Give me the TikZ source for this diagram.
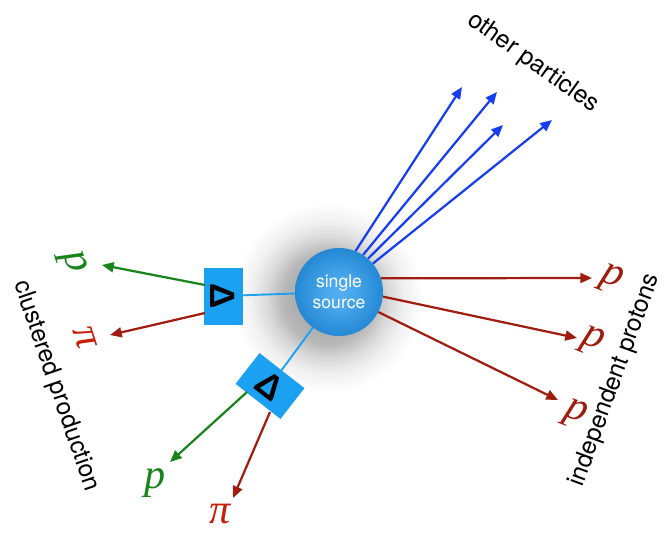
\documentclass[tikz,border=0pt]{standalone}
\usepackage{fontspec}
\setmainfont{TeX Gyre Heros}
\newfontfamily\partfont{Liberation Serif}
\newfontfamily\deltafont{Liberation Sans}
\usepackage{xcolor}
\usepackage{tikz}
\usetikzlibrary{positioning,shapes,arrows.meta}

\definecolor{srcin}{RGB}{84,176,242}
\definecolor{srcout}{RGB}{36,136,212}
\definecolor{boxblue}{RGB}{28,160,242}
\definecolor{partblue}{RGB}{22,62,238}
\definecolor{protred}{RGB}{160,28,14}
\definecolor{pired}{RGB}{200,30,12}
\definecolor{protgreen}{RGB}{24,132,26}

\pgfdeclareradialshading{ball}{\pgfpoint{0bp}{0bp}}{color(0bp)=(srcin); color(10bp)=(srcin!70!srcout); color(25bp)=(srcout); color(50bp)=(srcout)}
\pgfdeclareradialshading{haze}{\pgfpoint{0bp}{0bp}}{color(0bp)=(black!42); color(12bp)=(black!28); color(16bp)=(black!15); color(20bp)=(black!6); color(25bp)=(white); color(50bp)=(white)}

\tikzstyle{source}=[circle, minimum size=2.64cm, inner sep=0pt, shade, shading=ball,
        text=white, align=center, font=\fontsize{15}{18}\selectfont]
\tikzstyle{deltabox}=[rectangle, fill=boxblue, minimum width=1.71cm, minimum height=1.17cm,
        inner sep=0pt, font=\deltafont\bfseries\fontsize{30}{30}\selectfont]
\tikzstyle{myarrow}=[-{Triangle[length=10pt,width=8.5pt]}, line width=1.9pt]
\tikzstyle{link}=[-, line width=1.6pt, draw=boxblue]
\tikzstyle{particle}=[inner sep=0pt, font=\partfont\itshape\fontsize{36}{36}\selectfont]
\tikzstyle{caption}=[inner sep=0pt, font=\fontsize{21}{24}\selectfont]

\begin{document}
\begin{tikzpicture}[x=0.03cm, y=-0.03cm]
    \useasboundingbox (0,0) rectangle (664,533);
    % soft glow behind the source
    \shade[shading=haze] (328,298) circle (2.85cm);

    \node (src) [source] at (339,292) {single\\source};
    \node (box1) [deltabox, rotate=-90] at (223,296) {Δ};
    \node (box2) [deltabox, rotate=-38] at (270,386) {Δ};
    \draw[link] (src) -- (box1);
    \draw[link] (src) -- (box2);

    % labels
    \node (pl1) [particle, text=protgreen, rotate=-72] at (72,263) {p};
    \node (pil1) [particle, text=pired, rotate=-72] at (85,338) {π};
    \node (pl2) [particle, text=protgreen] at (155,483) {p};
    \node (pil2) [particle, text=pired] at (220,514) {π};
    \node (pr1) [particle, text=protred, rotate=-22] at (611,279) {p};
    \node (pr2) [particle, text=protred, rotate=-22] at (592,341) {p};
    \node (pr3) [particle, text=protred, rotate=-22] at (575,414) {p};
    \node (other) [caption, rotate=-35.5] at (533,63) {other particles};
    \node (indep) [caption, rotate=70] at (615,380) {independent protons};
    \node (clust) [caption, rotate=-71] at (56,386) {clustered production};

    % arrow ends
    \coordinate (b1) at (462,87);
    \coordinate (b2) at (497,92);
    \coordinate (b3) at (503,125);
    \coordinate (b4) at (552,120);
    \coordinate (r1) at (592,278);
    \coordinate (r2) at (577,338);
    \coordinate (r3) at (558,400);
    \coordinate (g1s) at (205,285);
    \coordinate (g1e) at (102,265);
    \coordinate (k1s) at (205,313);
    \coordinate (k1e) at (110,335);
    \coordinate (g2s) at (247,392);
    \coordinate (g2e) at (170,462);
    \coordinate (k2s) at (270,412);
    \coordinate (k2e) at (233,498);

    \draw[myarrow, partblue] (src.68) -- (b1);
    \draw[myarrow, partblue] (src.57) -- (b2);
    \draw[myarrow, partblue] (src.49) -- (b3);
    \draw[myarrow, partblue] (src.40) -- (b4);
    \draw[myarrow, protred] (src.18) -- (r1);
    \draw[myarrow, protred] (src.-6) -- (r2);
    \draw[myarrow, protred] (src.-27) -- (r3);
    \draw[myarrow, protgreen] (g1s) -- (g1e);
    \draw[myarrow, protred] (k1s) -- (k1e);
    \draw[myarrow, protgreen] (g2s) -- (g2e);
    \draw[myarrow, protred] (k2s) -- (k2e);
\end{tikzpicture}
\end{document}
